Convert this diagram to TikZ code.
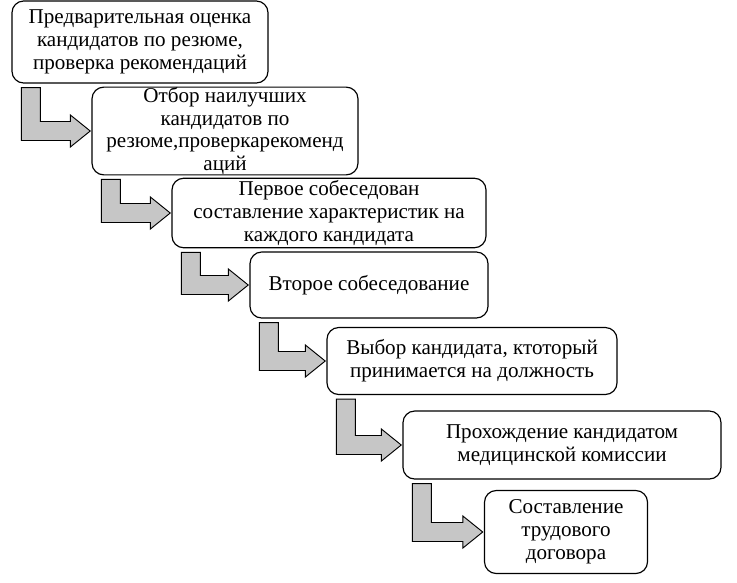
\documentclass[tikz,border=0pt]{standalone}
\usepackage{fontspec}
\setmainfont{Liberation Serif}
\usepackage{tikz}
\usetikzlibrary{calc}
\definecolor{stepgray}{RGB}{198,198,198}

% L-shaped block arrow from below one box into the left side of the next
\newcommand{\bendarrow}[2]{%
  \draw[bendarr] let \p1=(#1.south west), \p2=(#2.west) in
    (\x1+8.5pt,\y1-3.4pt) -- (\x1+24.7pt,\y1-3.4pt) -- (\x1+24.7pt,\y2+8.1pt)
    -- (\x2-18pt,\y2+8.1pt) -- (\x2-18pt,\y2+13.7pt) -- (\x2-1pt,\y2)
    -- (\x2-18pt,\y2-13.7pt) -- (\x2-18pt,\y2-8.1pt) -- (\x1+8.5pt,\y2-8.1pt) -- cycle;}

\begin{document}
\begin{tikzpicture}[x=0.03cm, y=-0.03cm, font=\fontsize{18}{19.5}\selectfont,
  stepbox/.style={draw, line width=1pt, rounded corners=10pt, fill=white,
                  align=center, inner sep=2pt},
  bendarr/.style={draw=black, line width=0.8pt, fill=stepgray}]
\useasboundingbox (0,0) rectangle (737,582);
\node[stepbox, minimum width=7.68cm, minimum height=2.46cm] (assess) at (140,42)
  {Предварительная оценка\\кандидатов по резюме,\\проверка рекомендаций};
\node[stepbox, minimum width=7.98cm, minimum height=2.37cm, inner ysep=0pt] (select) at (225,131)
  {Отбор наилучших\\кандидатов по\\резюме,проверкарекоменд\\аций};
\node[stepbox, minimum width=9.42cm, minimum height=1.98cm] (first) at (329,213)
  {Первое собеседован\\составление характеристик на\\каждого кандидата};
\node[stepbox, minimum width=7.14cm, minimum height=1.98cm] (second) at (369,285)
  {Второе собеседование};
\node[stepbox, minimum width=8.7cm, minimum height=2.01cm] (choice) at (472,361)
  {Выбор кандидата, ктоторый\\принимается на должность};
\node[stepbox, minimum width=9.54cm, minimum height=2.04cm] (medic) at (562,445)
  {Прохождение кандидатом\\медицинской комиссии};
\node[stepbox, minimum width=4.89cm, minimum height=2.49cm] (contract) at (566,532)
  {Составление\\трудового\\договора};
\bendarrow{assess}{select}
\bendarrow{select}{first}
\bendarrow{first}{second}
\bendarrow{second}{choice}
\bendarrow{choice}{medic}
\bendarrow{medic}{contract}
\end{tikzpicture}
\end{document}
